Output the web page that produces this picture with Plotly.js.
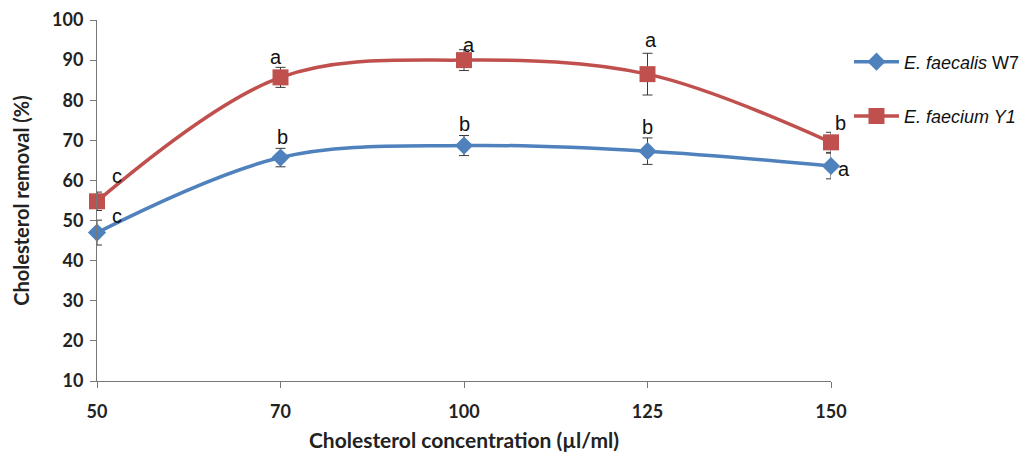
<!DOCTYPE html>
<html>
<head>
<meta charset="utf-8">
<script src="https://cdn.plot.ly/plotly-3.0.1.min.js"></script>
<style>html,body{margin:0;padding:0;background:#fff;}#chart{width:1026px;height:457px;}</style>
</head>
<body>
<div id="chart"></div>
<script>
const categories = ["50", "70", "100", "125", "150"];
const faecalisValues = [47, 65.7, 68.7, 67.3, 63.6];
const faecalisErrors = [3.1, 2.3, 2.5, 3.3, 3.2];
const faecalisLetters = ["c", "b", "b", "b", "a"];
const faeciumValues = [54.8, 85.7, 90, 86.5, 69.5];
const faeciumErrors = [2.3, 2.5, 2.6, 5.2, 2.5];
const faeciumLetters = ["c", "a", "a", "a", "b"];

const blue = "#4F81BD", red = "#C0504D";
const errStyle = (arr) => ({type: "data", array: arr, visible: true, color: "#3a3a3a", thickness: 1, width: 5});

const traces = [
  {x: categories, y: faecalisValues, name: "<i>E. faecalis</i> W7", type: "scatter", mode: "lines+markers",
   line: {color: blue, width: 3.5, shape: "spline", smoothing: 1},
   marker: {symbol: "diamond", size: 14, color: blue},
   error_y: errStyle(faecalisErrors), cliponaxis: false, legendgroup: "g1"},
  {x: categories, y: faeciumValues, name: "<i>E. faecium Y1</i>", type: "scatter", mode: "lines+markers",
   line: {color: red, width: 3.5, shape: "spline", smoothing: 1},
   marker: {symbol: "square", size: 16, color: red},
   error_y: errStyle(faeciumErrors), cliponaxis: false, legendgroup: "g2"}
];

const letterFont = {family: "Liberation Sans, Arial, sans-serif", size: 20, color: "#111"};
const blueShift = [[20, 17], [2, 21], [0, 22], [0, 24], [13, -3]];
const redShift = [[20, 25], [-5, 20], [5, 15], [3, 34], [9, 19]];
const annotations = [];
categories.forEach((c, i) => {
  annotations.push({x: i, y: faecalisValues[i], xref: "x", yref: "y", text: faecalisLetters[i], showarrow: false,
    xshift: blueShift[i][0], yshift: blueShift[i][1], font: letterFont});
  annotations.push({x: i, y: faeciumValues[i], xref: "x", yref: "y", text: faeciumLetters[i], showarrow: false,
    xshift: redShift[i][0], yshift: redShift[i][1], font: letterFont});
});

const axisFont = {family: "Lato, sans-serif", size: 18, color: "#222", weight: "bold"};
const layout = {
  width: 1026, height: 457,
  margin: {l: 97, r: 195, t: 20, b: 76, autoexpand: false},
  paper_bgcolor: "#fff", plot_bgcolor: "#fff",
  font: {family: "Lato, 'Open Sans', sans-serif", size: 16, color: "#222"},
  showlegend: true,
  legend: {x: 1.0245, y: 0.935, xanchor: "left", yanchor: "top", tracegroupgap: 28, itemwidth: 45,
    font: {family: "Liberation Sans, Arial, sans-serif", size: 18, color: "#111"}, bgcolor: "rgba(0,0,0,0)"},
  xaxis: {type: "category", range: [0, 4], showgrid: false, zeroline: false, automargin: false,
    showline: true, linecolor: "#777", linewidth: 1, ticks: "outside", ticklen: 6, tickcolor: "#777",
    ticklabelstandoff: 8,
    tickfont: axisFont,
    title: {text: "Cholesterol concentration (µl/ml)", standoff: 12, font: {family: "Lato, sans-serif", size: 21, color: "#222", weight: "bold"}}},
  yaxis: {range: [10, 100], dtick: 10, showgrid: false, zeroline: false, automargin: false,
    showline: true, linecolor: "#777", linewidth: 1, ticks: "outside", ticklen: 6, tickcolor: "#777",
    ticklabelstandoff: 3,
    tickfont: axisFont,
    title: {text: "Cholesterol removal (%)", standoff: 17, font: {family: "Lato, sans-serif", size: 20, color: "#222", weight: "bold"}}},
  annotations: annotations
};

Plotly.newPlot("chart", traces, layout, {displayModeBar: false, staticPlot: true});
</script>
</body>
</html>
